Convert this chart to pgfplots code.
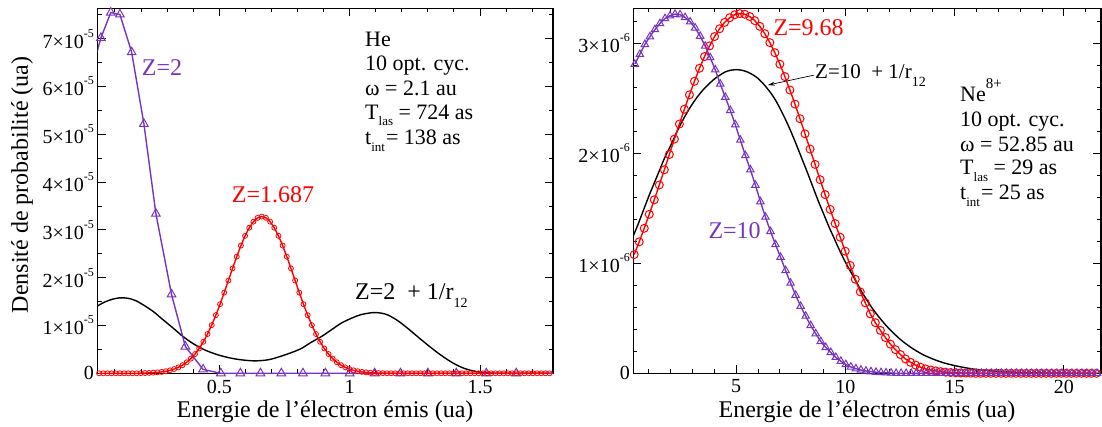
\documentclass[border=0pt]{standalone}
\usepackage{fontspec}
\setmainfont{Liberation Serif}
\usepackage{pgfplots}
\pgfplotsset{compat=1.18}
\usetikzlibrary{arrows.meta}
\definecolor{zviolet}{RGB}{118,52,192}
\definecolor{zred}{RGB}{255,0,0}
\newcommand{\fs}[1]{\fontsize{#1}{#1}\selectfont}
\newcommand{\sups}[1]{\raisebox{11pt}{\fs{12}#1}}
\newcommand{\subs}[1]{\raisebox{-8pt}{\fs{14}#1}}
\newcommand{\isubs}[1]{\raisebox{-6.5pt}{\fs{13}#1}}
\pgfplotsset{
  myaxis/.style={
    scale only axis, anchor=south west,
    axis line style={line width=1.2pt},
    every tick/.style={black, line width=1pt},
    major tick length=8pt, minor tick length=4pt,
    tick align=inside,
    ymin=0,
    tick label style={font=\fs{20}},
    xticklabel style={yshift=-3pt},
  }
}
\begin{document}
\begin{tikzpicture}
\path[use as bounding box] (0,0) rectangle (1102pt,427pt);
% ---------------- left panel ----------------
\begin{axis}[myaxis, at={(97.5pt,53.7pt)}, width=455.5pt, height=365pt,
  xmin=0.033, xmax=1.78, ymax=7.64,
  xtick={0.5,1,1.5}, xticklabels={0.5,1,1.5},
  minor xtick={0.1,0.2,0.3,0.4,0.6,0.7,0.8,0.9,1.1,1.2,1.3,1.4,1.6,1.7},
  ytick={0,1,2,3,4,5,6,7},
  yticklabels={0,{1×10\sups{-5}},{2×10\sups{-5}},{3×10\sups{-5}},{4×10\sups{-5}},{5×10\sups{-5}},{6×10\sups{-5}},{7×10\sups{-5}}},
  minor ytick={0.5,1.5,2.5,3.5,4.5,5.5,6.5,7.5}]
\addplot[black, line width=1.4pt, smooth] coordinates {
(0.033,1.41) (0.06,1.49) (0.09,1.55) (0.119,1.58) (0.15,1.57) (0.18,1.52) (0.215,1.41)
(0.25,1.28) (0.278,1.15) (0.32,0.96) (0.361,0.77) (0.40,0.62) (0.444,0.49) (0.49,0.395)
(0.534,0.33) (0.58,0.285) (0.636,0.26) (0.69,0.285) (0.738,0.36) (0.78,0.44) (0.815,0.52)
(0.85,0.64) (0.892,0.77) (0.93,0.91) (0.968,1.05) (1.01,1.16) (1.045,1.23) (1.089,1.27)
(1.12,1.26) (1.147,1.22) (1.185,1.10) (1.223,0.94) (1.26,0.77) (1.30,0.59) (1.34,0.42)
(1.377,0.28) (1.41,0.175) (1.441,0.10) (1.47,0.055) (1.492,0.03) (1.53,0.01) (1.57,0) (1.78,0)};
\addplot[zviolet, line width=1.4pt, forget plot] coordinates {
(0.020,6.50) (0.046,7.02) (0.084,7.55) (0.119,7.51) (0.164,6.72) (0.211,5.22) (0.257,3.34)
(0.317,1.65) (0.370,0.56) (0.438,0.08) (0.506,0) (0.581,0) (0.658,0) (0.738,0) (0.821,0)
(0.907,0) (1.0,0) (1.096,0) (1.195,0) (1.30,0) (1.409,0) (1.524,0) (1.639,0) (1.78,0)};
\addplot[zviolet, only marks, mark=triangle, mark size=5pt, mark options={line width=1pt}] coordinates {
(0.046,7.02) (0.084,7.55) (0.119,7.51) (0.164,6.72) (0.211,5.22) (0.257,3.34)
(0.317,1.65) (0.370,0.56) (0.438,0.08) (0.506,0) (0.581,0) (0.658,0) (0.738,0) (0.821,0)
(0.907,0) (1.0,0) (1.096,0) (1.195,0) (1.30,0) (1.409,0) (1.524,0) (1.639,0)};
\addplot[zred, line width=1.4pt, mark=o, mark size=2.5pt, mark options={line width=0.8pt}] coordinates {
(0.039,0) (0.055,0) (0.071,0) (0.087,0) (0.103,0) (0.119,0) (0.135,0) (0.151,0) (0.167,0) (0.183,0)
(0.199,0.003) (0.215,0.005) (0.231,0.008) (0.247,0.013) (0.263,0.020) (0.279,0.029) (0.295,0.043)
(0.311,0.062) (0.327,0.089) (0.343,0.124) (0.359,0.170) (0.375,0.231) (0.391,0.307) (0.407,0.403)
(0.423,0.519) (0.439,0.659) (0.455,0.822) (0.471,1.008) (0.487,1.217) (0.503,1.446) (0.519,1.689)
(0.535,1.942) (0.551,2.196) (0.567,2.442) (0.583,2.673) (0.599,2.877) (0.615,3.047) (0.631,3.174)
(0.647,3.253) (0.663,3.280) (0.679,3.253) (0.695,3.174) (0.711,3.047) (0.727,2.877) (0.743,2.673)
(0.759,2.442) (0.775,2.196) (0.791,1.942) (0.807,1.689) (0.823,1.446) (0.839,1.217) (0.855,1.008)
(0.871,0.822) (0.887,0.659) (0.903,0.519) (0.919,0.403) (0.935,0.307) (0.951,0.231) (0.967,0.170)
(0.983,0.124) (0.999,0.089) (1.015,0.062) (1.031,0.043) (1.047,0.029) (1.063,0.020) (1.079,0.013)
(1.095,0.008) (1.111,0.005) (1.127,0.003) (1.143,0) (1.159,0) (1.175,0) (1.191,0) (1.207,0)
(1.223,0) (1.239,0) (1.255,0) (1.271,0) (1.287,0) (1.303,0) (1.319,0) (1.335,0) (1.351,0) (1.367,0)
(1.383,0) (1.399,0) (1.415,0) (1.431,0) (1.447,0) (1.463,0) (1.479,0) (1.495,0) (1.511,0) (1.527,0)
(1.543,0) (1.559,0) (1.575,0) (1.591,0) (1.607,0) (1.623,0) (1.639,0) (1.655,0) (1.671,0) (1.687,0)
(1.703,0) (1.719,0) (1.735,0) (1.751,0) (1.767,0)};
\end{axis}
% ---------------- right panel ----------------
\begin{axis}[myaxis, at={(633.3pt,53.7pt)}, width=467.7pt, height=365pt,
  xmin=0.29, xmax=21.7, ymax=3.318,
  xtick={5,10,15,20}, xticklabels={5,10,15,20},
  minor xtick={1,2,3,4,6,7,8,9,11,12,13,14,16,17,18,19,21},
  ytick={0,1,2,3},
  yticklabels={0,{1×10\sups{-6}},{2×10\sups{-6}},{3×10\sups{-6}}},
  minor ytick={0.2,0.4,0.6,0.8,1.2,1.4,1.6,1.8,2.2,2.4,2.6,2.8,3.2}]
\addplot[black, line width=1.4pt, smooth] coordinates {
(0.29,1.25) (0.5,1.35) (0.75,1.48) (1.0,1.61) (1.25,1.73) (1.5,1.85) (1.75,1.97) (2.0,2.07)
(2.25,2.18) (2.5,2.28) (2.75,2.37) (3.0,2.45) (3.25,2.52) (3.5,2.58) (3.75,2.63) (4.0,2.675)
(4.25,2.71) (4.5,2.74) (4.75,2.755) (5.0,2.76) (5.25,2.755) (5.5,2.74) (5.75,2.715) (6.0,2.68)
(6.25,2.63) (6.5,2.57) (6.75,2.50) (7.0,2.41) (7.25,2.31) (7.5,2.20) (7.75,2.08) (8.0,1.955)
(8.25,1.83) (8.5,1.70) (8.75,1.57) (9.0,1.45) (9.25,1.33) (9.5,1.22) (9.75,1.11) (10.0,1.01)
(10.25,0.92) (10.5,0.83) (10.75,0.74) (11.0,0.66) (11.25,0.585) (11.5,0.52) (11.75,0.46)
(12.0,0.405) (12.5,0.31) (13.0,0.235) (13.5,0.175) (14.0,0.13) (14.5,0.095) (15.0,0.07)
(15.5,0.05) (16.0,0.035) (16.5,0.025) (17.0,0.017) (18.0,0.008) (19.0,0.003) (20.0,0.001) (21.7,0)};
\addplot[zred, line width=1.4pt, mark=o, mark size=4pt, mark options={line width=1pt}] coordinates {
(0.33,1.079) (0.56,1.195) (0.79,1.318) (1.02,1.445) (1.25,1.577) (1.48,1.712) (1.71,1.850)
(1.94,1.989) (2.17,2.129) (2.40,2.266) (2.63,2.401) (2.86,2.531) (3.09,2.655) (3.32,2.773)
(3.55,2.879) (3.78,2.976) (4.01,3.061) (4.24,3.132) (4.47,3.190) (4.70,3.232) (4.93,3.259)
(5.16,3.270) (5.39,3.264) (5.62,3.243) (5.85,3.206) (6.08,3.154) (6.31,3.087) (6.54,3.006)
(6.77,2.914) (7.00,2.810) (7.23,2.697) (7.46,2.575) (7.69,2.447) (7.92,2.314) (8.15,2.177)
(8.38,2.038) (8.61,1.899) (8.84,1.760) (9.07,1.624) (9.30,1.490) (9.53,1.361) (9.76,1.237)
(9.99,1.110) (10.22,0.98) (10.45,0.855) (10.68,0.74) (10.91,0.64) (11.14,0.54) (11.37,0.46)
(11.60,0.39) (11.83,0.325) (12.06,0.265) (12.29,0.215) (12.52,0.17) (12.75,0.13) (12.98,0.10)
(13.21,0.075) (13.44,0.055) (13.67,0.04) (13.90,0.03) (14.13,0.022) (14.36,0.015) (14.59,0.010)
(14.82,0.007) (15.05,0.005) (15.28,0.003) (15.51,0.002) (15.74,0.001) (15.97,0) (16.20,0)
(16.43,0) (16.66,0) (16.89,0) (17.12,0) (17.35,0) (17.58,0) (17.81,0) (18.04,0) (18.27,0)
(18.50,0) (18.73,0) (18.96,0) (19.19,0) (19.42,0) (19.65,0) (19.88,0) (20.11,0) (20.34,0)
(20.57,0) (20.80,0) (21.03,0) (21.26,0) (21.49,0)};
\addplot[zviolet, line width=1.4pt, mark=triangle, mark size=4.3pt, mark options={line width=1pt}] coordinates {
(0.36,2.81) (0.59,2.90) (0.82,2.99) (1.05,3.06) (1.28,3.125) (1.51,3.18) (1.74,3.225) (1.97,3.25)
(2.20,3.265) (2.43,3.26) (2.66,3.235) (2.89,3.195) (3.12,3.14) (3.35,3.065) (3.58,2.975)
(3.81,2.87) (4.04,2.76) (4.27,2.63) (4.50,2.51) (4.73,2.39) (4.96,2.26) (5.19,2.12) (5.42,1.98)
(5.65,1.85) (5.88,1.71) (6.11,1.56) (6.34,1.42) (6.57,1.29) (6.80,1.17) (7.03,1.055) (7.26,0.935)
(7.49,0.82) (7.72,0.71) (7.95,0.61) (8.18,0.52) (8.41,0.435) (8.64,0.36) (8.87,0.29) (9.10,0.235)
(9.33,0.19) (9.56,0.145) (9.79,0.11) (10.02,0.08) (10.25,0.058) (10.48,0.042) (10.71,0.03)
(10.94,0.021) (11.17,0.015) (11.40,0.01) (11.63,0.007) (11.86,0.005) (12.09,0.003) (12.32,0)
(12.55,0) (12.78,0) (13.01,0) (13.24,0) (13.47,0) (13.70,0) (13.93,0) (14.16,0) (14.39,0)
(14.62,0) (14.85,0) (15.08,0) (15.31,0) (15.54,0) (15.77,0) (16.00,0) (16.23,0) (16.46,0)
(16.69,0) (16.92,0) (17.15,0) (17.38,0) (17.61,0) (17.84,0) (18.07,0) (18.30,0) (18.53,0)
(18.76,0) (18.99,0) (19.22,0) (19.45,0) (19.68,0) (19.91,0) (20.14,0) (20.37,0) (20.60,0)
(20.83,0) (21.06,0) (21.29,0) (21.52,0)};
\draw[-{Stealth[length=7pt,width=4pt]}, line width=0.7pt] (axis cs:8.55,2.71) -- (axis cs:6.45,2.62);
\end{axis}
% ---------------- text ----------------
\begin{scope}[every node/.style={inner sep=0pt, anchor=base west}]
\node[text=zviolet, font=\fs{24}] at (141.7pt,351pt) {Z=2};
\node[text=zred, font=\fs{24}] at (231.7pt,224pt) {Z=1.687};
\node[font=\fs{24}] at (355pt,127.7pt) {Z=2\ \ + 1/r\subs{12}};
\node[text=zred, font=\fs{24}] at (773.3pt,391pt) {Z=9.68};
\node[text=zviolet, font=\fs{24}] at (708.3pt,188.7pt) {Z=10};
\node[font=\fs{21}] at (815pt,348pt) {Z=10\ \ + 1/r\subs{12}};
% left info
\node[font=\fs{22}] at (365pt,380.8pt) {He};
\node[font=\fs{22}] at (365pt,356pt) {10 opt. cyc.};
\node[font=\fs{22}] at (365pt,331.2pt) {ω = 2.1 au};
\node[font=\fs{22}] at (365pt,307.5pt) {T\isubs{las} = 724 as};
\node[font=\fs{22}] at (365pt,282pt) {t\isubs{int}\hspace{1pt}= 138 as};
% right info
\node[font=\fs{22}] at (960pt,325.3pt) {Ne\raisebox{13pt}{\fs{15}8+}};
\node[font=\fs{22}] at (960pt,300.3pt) {10 opt. cyc.};
\node[font=\fs{22}] at (960pt,275.3pt) {ω = 52.85 au};
\node[font=\fs{22}] at (960pt,252pt) {T\isubs{las} = 29 as};
\node[font=\fs{22}] at (960pt,227pt) {t\isubs{int}\hspace{1pt}= 25 as};
\end{scope}
\node[font=\fs{24}, inner sep=0pt, anchor=base] at (325pt,9.7pt) {Energie de l’électron émis (ua)};
\node[font=\fs{24}, inner sep=0pt, anchor=base] at (867pt,9.7pt) {Energie de l’électron émis (ua)};
\node[font=\fs{24}, inner sep=0pt, rotate=90, anchor=center] at (22pt,242pt) {Densité de probabilité (ua)};
\end{tikzpicture}
\end{document}
